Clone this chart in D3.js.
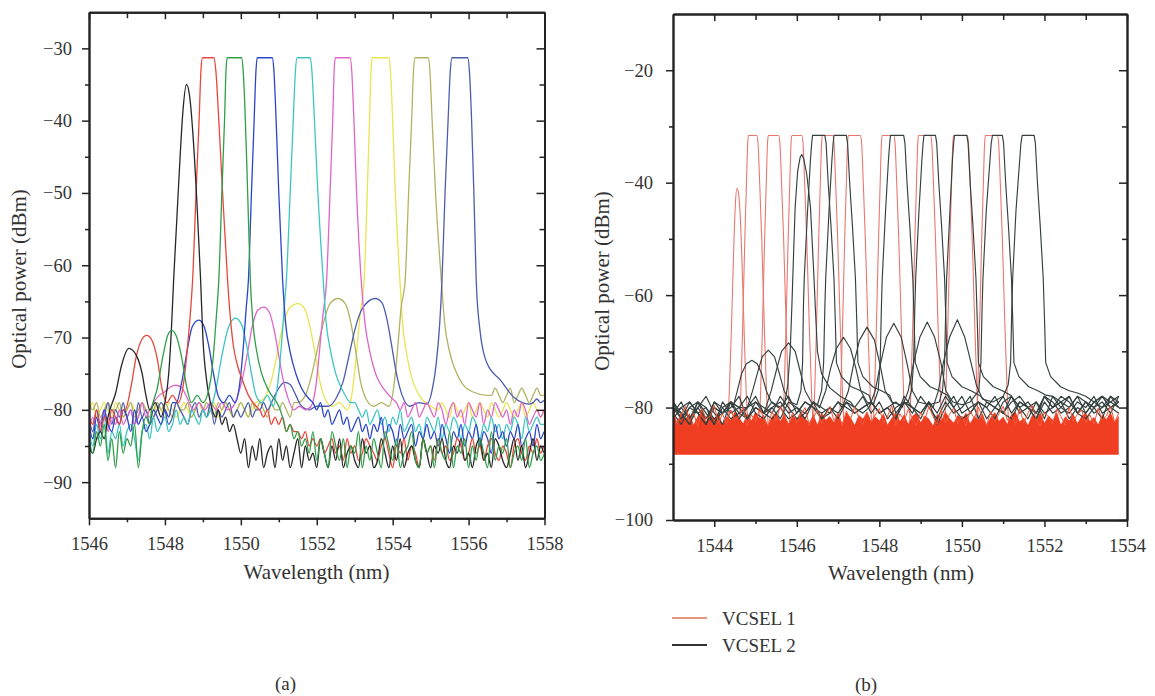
<!DOCTYPE html>
<html><head><meta charset="utf-8">
<script src="https://cdn.jsdelivr.net/npm/d3@7"></script>
<style>
body{margin:0;background:#fff}
svg text{font-family:"Liberation Serif","DejaVu Serif",serif;fill:#333}
.ax text{font-family:"Liberation Serif","DejaVu Serif",serif;font-size:18.5px;fill:#333}
.ax .domain{stroke:#222;stroke-width:1.9}
.ax line{stroke:#222;stroke-width:1.5}
</style></head>
<body><svg id="c" width="1155" height="696"></svg>
<script>
// ---------------- Panel (a) data: wavelength (nm), power (dBm) ----------------
const aXTicks = [1546,1548,1550,1552,1554,1556,1558];
const aXMinor = [1547,1549,1551,1553,1555,1557];
const aYTicks = [-30,-40,-50,-60,-70,-80,-90];
const aYMinor = [-35,-45,-55,-65,-75,-85];
const aGridStart = 1546, aGridStep = 0.1;

const aBlackLeft = [-85,-86,-84,-83,-84,-81];
const aBlackPeak = [[1546.55,-80],[1546.7,-77.7],[1546.85,-74],[1547.05,-71.5],[1547.25,-72.5],[1547.4,-75],[1547.5,-78],[1547.6,-80],[1547.75,-79],[1547.9,-81],[1548.0,-79],[1548.1,-75],[1548.17,-69],[1548.23,-62],[1548.3,-55],[1548.4,-45],[1548.47,-39],[1548.57,-35],[1548.66,-37],[1548.74,-42],[1548.84,-51],[1548.94,-62],[1549.0,-70],[1549.1,-76],[1549.2,-79],[1549.35,-81]];
const aBlackRight = [-80,-82,-81,-83,-82,-84,
 -86,-84,-88,-85,-87,-84,-88,-86,-85,-88, -84,-87,-85,-88,-86,-84,-88,-85,-87,-86,
 -88,-84,-86,-88,-85,-87,-84,-88,-86,-85, -87,-88,-84,-86,-85,-88,-87,-84,-86,-88,
 -85,-87,-84,-88,-86,-85,-87,-88,-84,-86, -88,-85,-86,-84,-87,-88,-85,-86,-84,-87,
 -86,-88,-85,-84,-87,-86,-88,-84,-85,-87, -88,-86,-84,-87,-85,-88,-86,-84,-87,-85, -86,-85];

const aRedLeft = [-81,-82,-80,-83,-81,-82,-80,-81,-82,-80];
const aRedPeak = [[1546.95,-80],[1547.1,-77],[1547.25,-72.5],[1547.4,-70.2],[1547.52,-69.7],[1547.65,-70.3],[1547.8,-73],[1547.92,-77],[1548.05,-79],[1548.2,-78],[1548.35,-79],[1548.5,-76],[1548.6,-71],[1548.68,-66],[1548.73,-62],[1548.82,-50],[1548.9,-40],[1548.95,-33],[1548.99,-31.3],[1549.29,-31.3],[1549.34,-33],[1549.42,-40],[1549.52,-50],[1549.65,-62],[1549.72,-67],[1549.8,-71],[1549.92,-74],[1550.05,-76],[1550.2,-78],[1550.4,-79.5]];
const aRedRight = [-80,-81,-80,-82,-81,
 -82,-81,-83,-82,-83,-83,-84,-83,-85,-84, -85,-84,-86,-85,-84,-86,-85,-87,-84,-86,
 -85,-87,-86,-84,-85,-86,-87,-85,-84,-86, -88,-85,-86,-84,-87,-85,-86,-88,-84,-86,
 -85,-87,-84,-86,-85,-87,-86,-84,-85,-87, -86,-84,-86,-85,-87,-85,-84,-86,-87,-85,
 -86,-88,-85,-84,-86,-87,-85,-86,-84,-86, -85,-86,-84];

const aGreenLeft = [-84,-86,-83,-85,-82,-87,-84,-88,-83,-86,-84,-85,-82,-88,-83,-81,-82];
const aGreenPeak = [[1547.65,-80],[1547.8,-77],[1547.95,-72.5],[1548.08,-69.6],[1548.18,-69],[1548.3,-69.8],[1548.45,-73],[1548.58,-77],[1548.7,-79],[1548.85,-78],[1549.0,-79],[1549.2,-76],[1549.3,-71],[1549.37,-66],[1549.42,-62],[1549.5,-50],[1549.57,-40],[1549.61,-33],[1549.64,-31.3],[1550.02,-31.3],[1550.06,-33],[1550.12,-40],[1550.18,-50],[1550.25,-62],[1550.32,-68],[1550.42,-72],[1550.55,-75],[1550.75,-77.5],[1551.0,-79.5]];
const aGreenRight = [-81,-83,-82,-84,-83,-85,-84,-86,-83,
 -87,-84,-86,-88,-83,-85,-87,-84,-88,-85, -86,-83,-88,-85,-87,-84,-86,-88,-83,-85,
 -87,-84,-88,-86,-85,-83,-87,-88,-84,-86, -85,-88,-84,-86,-87,-83,-88,-85,-86,-84,
 -88,-85,-87,-84,-86,-88,-83,-87,-85,-86, -84,-88,-86,-85,-87,-84,-88,-86,-85,-87, -86,-84,-87];

const aBlueLeft = [-82,-84,-81,-83,-80,-82,-83,-81,-82,-80,-81,-83,-80,-82,-81,-83,-82,-80,-81,-82,-80,-81,-79];
const aBluePeak = [[1548.3,-79],[1548.45,-76],[1548.58,-72],[1548.72,-68.5],[1548.89,-67.6],[1549.02,-68.3],[1549.15,-71],[1549.28,-75],[1549.4,-78],[1549.55,-79],[1549.7,-78],[1549.85,-79],[1549.98,-76],[1550.07,-71],[1550.14,-66],[1550.2,-62],[1550.28,-50],[1550.35,-40],[1550.4,-33],[1550.43,-31.3],[1550.83,-31.3],[1550.87,-33],[1550.93,-40],[1551.0,-50],[1551.1,-62],[1551.18,-68],[1551.3,-72],[1551.45,-75],[1551.6,-77],[1551.8,-78.5]];
const aBlueRight = [-79,
 -80,-79,-81,-80,-82,-81,-80,-82,-81,-83, -82,-81,-83,-82,-84,-82,-83,-81,-84,-82,
 -83,-85,-82,-84,-83,-82,-85,-83,-84,-82, -84,-83,-85,-82,-84,-86,-83,-84,-82,-85,
 -83,-84,-82,-85,-83,-84,-86,-82,-84,-83, -85,-83,-84,-82,-85,-84,-83,-85,-82,-84, -83,-84,-82];

const aCyanLeft = [-83,-85,-82,-84,-81,-86,-83,-84,-82,-85,-83,-82,-84,-87,-83,-82,-84,-81,-83,-82,-81,-83,-82,-80,-82,-81,-82,-80,-81,-82,-80,-81];
const aCyanPeak = [[1549.2,-80],[1549.35,-77],[1549.5,-72.5],[1549.68,-68.5],[1549.86,-67.3],[1550.02,-68.2],[1550.15,-71],[1550.28,-75],[1550.4,-78],[1550.55,-79],[1550.7,-78],[1550.85,-79.5],[1550.98,-76],[1551.07,-71],[1551.14,-66],[1551.2,-62],[1551.3,-50],[1551.38,-40],[1551.44,-33],[1551.48,-31.3],[1551.83,-31.3],[1551.87,-33],[1551.94,-40],[1552.03,-50],[1552.17,-62],[1552.25,-68],[1552.37,-72],[1552.5,-75],[1552.7,-77.5],[1552.9,-79]];
const aCyanRight = [-79,-80,-81,-80,-82,-81,-80,-82,-81,-83, -81,-82,-80,-83,-82,-81,-83,-82,-84,-81,
 -82,-83,-81,-84,-82,-83,-81,-82,-84,-82, -83,-81,-82,-84,-82,-83,-81,-83,-82,-84,
 -82,-83,-81,-82,-84,-81,-83,-82,-81,-82, -82,-83,-81];

const aMagentaLeft = [-83,-81,-84,-82,-80,-83,-81,-82,-80,-82,-81,-80,-82,-81,-79,-81,-80];
const aMagentaPeak = [[1547.7,-79],[1547.85,-78],[1548.0,-77.5],[1548.15,-76.8],[1548.3,-76.6],[1548.45,-77],[1548.6,-78.5],[1548.75,-80],[1548.9,-79],[1549.05,-80],[1549.2,-79],[1549.35,-80],[1549.5,-79],[1549.65,-80],[1549.8,-79.5],[1549.92,-78],[1550.05,-75.5],[1550.18,-72],[1550.3,-68.5],[1550.45,-66.2],[1550.6,-65.8],[1550.75,-66.5],[1550.88,-69],[1551.0,-72.5],[1551.12,-76],[1551.25,-78.5],[1551.4,-80],[1551.55,-79.5],[1551.7,-80],[1551.85,-79.5],[1551.97,-77],[1552.07,-72],[1552.16,-67],[1552.26,-62],[1552.35,-50],[1552.42,-40],[1552.46,-33],[1552.49,-31.3],[1552.88,-31.3],[1552.92,-33],[1552.98,-40],[1553.05,-50],[1553.17,-62],[1553.27,-68],[1553.4,-72],[1553.55,-75],[1553.75,-77],[1554.0,-78.5]];
const aMagentaRight = [-79,-80,-79,-81,-80,-79,-81,-80,-79,
 -80,-81,-79,-80,-82,-80,-79,-81,-80,-82, -79,-80,-81,-79,-82,-80,-81,-79,-80,-81,
 -80,-82,-80,-81,-79,-80,-82,-81,-80,-81, -80,-81,-80];

const aYellowLeft = [-80,-79,-81,-80,-79,-80,-81,-79,-80,-81, -80,-79,-80,-81,-79,-80,-80,-81,-79,-80,
 -81,-79,-80,-81,-80,-79,-80,-81,-80,-79, -80,-81,-80,-79,-81,-80,-79,-80,-81,-80, -79,-80,-81,-80];
const aYellowPeak = [[1550.4,-79],[1550.6,-78.5],[1550.8,-76],[1550.95,-72.5],[1551.1,-68.5],[1551.3,-65.8],[1551.5,-65.3],[1551.68,-66],[1551.82,-68.5],[1551.95,-72],[1552.08,-76],[1552.22,-78.5],[1552.4,-79.5],[1552.6,-79],[1552.8,-80],[1552.95,-77],[1553.05,-72],[1553.14,-67],[1553.25,-62],[1553.33,-50],[1553.39,-40],[1553.43,-33],[1553.46,-31.3],[1553.9,-31.3],[1553.94,-33],[1554.0,-40],[1554.07,-50],[1554.19,-62],[1554.26,-68],[1554.36,-72],[1554.5,-75.5],[1554.7,-78],[1555.0,-79.5],[1555.2,-80]];
const aYellowRight = [-79,-80,-81,-79,-80,-81,-80, -79,-81,-80,-79,-80,-81,-79,-80,-81,-80,
 -79,-80,-81,-80,-79,-81,-80,-79,-80,-81, -80,-79,-80];

const aOliveLeft = [-79,-80,-79,-81,-80,-79,-80,-80,-79,-81, -80,-79,-81,-80,-79,-80,-81,-80,-79,-80,
 -79,-80,-81,-79,-80,-80,-79,-81,-80,-79, -80,-79,-80,-81,-79,-80,-79,-80,-81,-80,
 -79,-80,-81,-79,-80,-79,-80,-81,-79,-80, -80,-79,-80,-81,-79];
const aOlivePeak = [[1551.5,-79],[1551.7,-78],[1551.85,-75.5],[1552.0,-72],[1552.15,-68.5],[1552.35,-65.3],[1552.56,-64.6],[1552.75,-65.3],[1552.9,-68],[1553.03,-72],[1553.15,-76],[1553.3,-78.5],[1553.5,-79.5],[1553.7,-79],[1553.9,-79.5],[1554.05,-76],[1554.14,-71],[1554.22,-66],[1554.33,-62],[1554.42,-50],[1554.5,-40],[1554.55,-33],[1554.59,-31.3],[1554.94,-31.3],[1554.98,-33],[1555.04,-40],[1555.13,-50],[1555.28,-62],[1555.37,-68],[1555.5,-72],[1555.65,-74.5],[1555.85,-76.5],[1556.1,-77.5],[1556.5,-78]];
const aOliveRight = [-78,-77,-78,-79, -78,-77,-79,-78,-77,-78,-79,-78,-77,-78, -78,-77,-78];

const aNavyLeft = [-81,-83,-80,-82,-81,-79,-82,-80,-81,-79, -81,-80,-82,-79,-81,-80,-82,-81,-80,-79,
 -80,-82,-81,-79,-80,-81,-82,-80,-79,-81, -80,-81,-79,-82,-80,-81,-80,-79,-81,-80, -81,-80,-79,-81,-80,-80,-79];
const aNavyPeak = [[1550.7,-80],[1550.85,-78.5],[1551.0,-77],[1551.15,-76.2],[1551.3,-76.5],[1551.45,-78],[1551.6,-79.5],[1551.8,-80],[1552.0,-79.5],[1552.3,-79.5],[1552.5,-78.5],[1552.7,-76],[1552.85,-72.5],[1553.0,-69],[1553.2,-66],[1553.54,-64.6],[1553.72,-65.2],[1553.85,-67.5],[1553.97,-71],[1554.1,-75],[1554.25,-78],[1554.45,-79.5],[1554.7,-79],[1554.9,-79.2],[1555.05,-77],[1555.15,-73.5],[1555.24,-68],[1555.3,-62],[1555.38,-50],[1555.46,-40],[1555.52,-33],[1555.56,-31.3],[1555.98,-31.3],[1556.02,-33],[1556.08,-40],[1556.14,-50],[1556.2,-62],[1556.3,-69],[1556.48,-73.5],[1556.84,-75.9],[1557.2,-78.3],[1557.6,-79.2]];
const aNavyRight = [-79,-78.5,-79,-78.7,-79];

// ---------------- Panel (b) data ----------------
const bXTicks = [1544,1546,1548,1550,1552,1554];
const bXMinor = [1545,1547,1549,1551,1553];
const bYTicks = [-20,-40,-60,-80,-100];
const bYMinor = [-30,-50,-70,-90];
const bGridStart = 1543, bGridStep = 0.2, bBandStep = 0.1, bDataEnd = 1553.85;
const bandBottom = -88.4;
const bandTop = [
 -81.5,-82.5,-80.8,-82,-81,-83,-81.5,-80.5,-82.5,-81.2,
 -82,-80.8,-83,-81.5,-82.2,-80.6,-81.8,-82.8,-81,-82.3,
 -80.7,-82,-81.3,-83.2,-81.6,-80.9,-82.4,-81.1,-82.9,-81.4,
 -82.1,-80.6,-81.9,-82.7,-81.2,-83,-80.8,-82.2,-81.5,-82.6,
 -81,-82.8,-80.9,-81.7,-83.1,-81.3,-82,-80.7,-82.5,-81.6,
 -82.3,-81,-83,-81.8,-80.8,-82.4,-81.2,-82.9,-81.5,-80.9,
 -82.6,-81.4,-82,-83.2,-81.1,-82.3,-80.7,-81.9,-82.7,-81.3,
 -82.1,-80.9,-82.8,-81.5,-82.2,-81,-83,-81.7,-80.8,-82.4,
 -81.6,-82.9,-81.2,-80.7,-82.5,-81.8,-83.1,-81.3,-82,-80.9,
 -82.7,-81.4,-82.2,-80.8,-83,-81.6,-82.3,-81.1,-82.8,-81.5,
 -80.9,-82.4,-81.7,-83,-81.2,-82.1,-80.8,-82.6,-81.4];
const bRedNoise = [
 -80.5,-83,-81.2,-79.8,-82.6,-81,-83.4,-80.2,-82,-81.5,
 -79.6,-82.8,-81.1,-83,-80.4,-82.2,-81.7,-79.9,-83.2,-81.3,
 -82.5,-80.1,-81.9,-83.3,-80.7,-82.4,-79.7,-81.6,-83,-80.9,
 -82.7,-81.2,-80,-83.1,-81.8,-80.5,-82.9,-81.4,-79.8,-82.3,
 -81,-83.2,-80.6,-82.1,-79.9,-81.7,-83,-80.8,-82.6,-81.3,
 -80.2,-82.8,-81.5,-79.7,-83.1,-81.1,-82.4,-80.3,-81.9,-83.3,
 -80.9,-82.2,-79.8,-81.6,-83,-80.4,-82.7,-81.2,-80.1,-82.9,
 -81.5,-83.2,-80.6,-82,-79.9,-81.8,-83.1,-80.7,-82.5,-81.1,
 -79.8,-82.3,-81.4,-83,-80.2,-82.8,-81,-79.6,-82.1,-83.2,
 -80.8,-81.7,-82.9,-80.3,-81.6,-83.1,-79.9,-82.4,-81.2,-80.5,
 -82.7,-81.3,-83,-80.1,-82.2,-81.5,-79.7,-82.6,-81];

// VCSEL 1 (red) peaks
const bR0 = [[1544.3,-85],[1544.36,-78],[1544.42,-65],[1544.47,-52],[1544.51,-44],[1544.55,-41],[1544.59,-42],[1544.63,-46],[1544.68,-56],[1544.73,-68],[1544.79,-80],[1544.84,-85]];
const bR1 = [[1544.6,-85],[1544.64,-78],[1544.69,-65],[1544.74,-50],[1544.78,-40],[1544.81,-33],[1544.83,-31.6],[1545.03,-31.6],[1545.06,-33],[1545.1,-40],[1545.15,-50],[1545.21,-65],[1545.27,-78],[1545.32,-85]];
const bR2 = [[1545.08,-85],[1545.12,-78],[1545.17,-65],[1545.22,-50],[1545.26,-40],[1545.29,-33],[1545.31,-31.6],[1545.56,-31.6],[1545.59,-33],[1545.63,-40],[1545.68,-50],[1545.74,-65],[1545.8,-78],[1545.85,-85]];
const bR3 = [[1545.65,-85],[1545.69,-78],[1545.74,-65],[1545.79,-50],[1545.83,-40],[1545.86,-33],[1545.88,-31.6],[1546.12,-31.6],[1546.15,-33],[1546.19,-40],[1546.24,-50],[1546.3,-65],[1546.36,-78],[1546.41,-85]];
const bR4 = [[1546.39,-85],[1546.43,-78],[1546.48,-65],[1546.53,-50],[1546.57,-40],[1546.6,-33],[1546.62,-31.6],[1546.87,-31.6],[1546.9,-33],[1546.94,-40],[1546.99,-50],[1547.05,-65],[1547.11,-78],[1547.16,-85]];
const bR5 = [[1547.02,-85],[1547.06,-78],[1547.11,-65],[1547.16,-50],[1547.2,-40],[1547.23,-33],[1547.25,-31.6],[1547.54,-31.6],[1547.57,-33],[1547.61,-40],[1547.66,-50],[1547.72,-65],[1547.78,-78],[1547.83,-85]];
const bR6 = [[1547.84,-85],[1547.88,-78],[1547.93,-65],[1547.98,-50],[1548.02,-40],[1548.05,-33],[1548.07,-31.6],[1548.35,-31.6],[1548.38,-33],[1548.42,-40],[1548.47,-50],[1548.53,-65],[1548.59,-78],[1548.64,-85]];
const bR7 = [[1548.72,-85],[1548.76,-78],[1548.81,-65],[1548.86,-50],[1548.9,-40],[1548.93,-33],[1548.95,-31.6],[1549.24,-31.6],[1549.27,-33],[1549.31,-40],[1549.36,-50],[1549.42,-65],[1549.48,-78],[1549.53,-85]];
const bR8 = [[1549.57,-85],[1549.61,-78],[1549.66,-65],[1549.71,-50],[1549.75,-40],[1549.78,-33],[1549.8,-31.6],[1550.13,-31.6],[1550.16,-33],[1550.2,-40],[1550.25,-50],[1550.31,-65],[1550.37,-78],[1550.42,-85]];
const bR9 = [[1550.34,-85],[1550.38,-78],[1550.43,-65],[1550.48,-50],[1550.52,-40],[1550.55,-33],[1550.57,-31.6],[1550.86,-31.6],[1550.89,-33],[1550.93,-40],[1550.98,-50],[1551.04,-65],[1551.1,-78],[1551.15,-85]];

// VCSEL 2 (black) traces: left floor, peak with side mode, right floor
const bB0Left = [-80,-82,-79,-81,-83,-80,-81,-79];
const bB0Peak = [[1544.45,-80],[1544.56,-77],[1544.66,-74],[1544.78,-72.2],[1544.91,-71.6],[1545.04,-72.2],[1545.15,-74],[1545.26,-77],[1545.38,-79],[1545.55,-80],[1545.7,-79.5],[1545.78,-76],[1545.84,-70],[1545.88,-62],[1545.92,-53],[1545.96,-44.3],[1546.02,-38],[1546.08,-35.5],[1546.12,-35],[1546.17,-35.8],[1546.24,-38.5],[1546.33,-44.3],[1546.41,-56],[1546.46,-64],[1546.5,-70],[1546.6,-74],[1546.8,-76.5],[1547.05,-78],[1547.3,-79]];
const bB0Right = [-80,-78,-81,-79,-82,-80,-79,-81,-78,-80,-82,-79,-81,-80,-78,-82,-79,-80,-81,-79,-78,-80,-82,-79,-81,-80,-78,-81,-79,-80,-82,-78,-80,-79];
const bB1Left = [-81,-79,-82,-80,-78,-81,-83,-79,-80,-82];
const bB1Peak = [[1544.8,-80],[1544.93,-77],[1545.04,-74],[1545.16,-71],[1545.31,-69.8],[1545.46,-71],[1545.58,-74],[1545.69,-77],[1545.85,-79],[1546.0,-79.5],[1546.1,-77],[1546.14,-72],[1546.16,-62],[1546.18,-57],[1546.26,-45],[1546.33,-36],[1546.36,-33],[1546.38,-31.6],[1546.68,-31.6],[1546.71,-33],[1546.76,-40],[1546.83,-48],[1546.9,-57],[1546.93,-64],[1546.96,-72],[1547.08,-74.5],[1547.32,-76.3],[1547.55,-77],[1547.75,-77.8]];
const bB1Right = [-79,-81,-80,-82,-78,-80,-81,-79,-83,-80,-78,-81,-80,-79,-82,-80,-81,-78,-80,-82,-79,-81,-80,-78,-79,-81,-82,-80,-79,-81,-78,-80];
const bB2Left = [-79,-81,-83,-80,-82,-79,-81,-80,-78,-82,-80,-81];
const bB2Peak = [[1545.25,-80],[1545.38,-77],[1545.5,-73.5],[1545.63,-70],[1545.8,-68.5],[1545.96,-70],[1546.08,-73.5],[1546.2,-77],[1546.35,-79],[1546.5,-79.5],[1546.6,-77],[1546.65,-72],[1546.68,-62],[1546.7,-57],[1546.78,-45],[1546.85,-36],[1546.88,-33],[1546.9,-31.6],[1547.2,-31.6],[1547.23,-33],[1547.28,-40],[1547.35,-48],[1547.42,-57],[1547.45,-64],[1547.48,-72],[1547.6,-74.5],[1547.84,-76.3],[1548.05,-77],[1548.25,-77.8]];
const bB2Right = [-81,-79,-80,-82,-79,-81,-78,-80,-82,-81,-79,-80,-78,-81,-82,-79,-80,-81,-78,-80,-79,-82,-80,-81,-79,-78,-80,-81,-79];
const bB3Left = [-82,-80,-79,-81,-80,-83,-79,-81,-80,-82,-79,-80,-81,-78,-80,-82,-81,-79];
const bB3Peak = [[1546.55,-80],[1546.7,-77],[1546.82,-73],[1546.96,-69.5],[1547.13,-67.5],[1547.3,-69.5],[1547.43,-73],[1547.55,-77],[1547.7,-79],[1547.85,-79.5],[1547.97,-77],[1548.02,-72],[1548.05,-62],[1548.07,-57],[1548.15,-45],[1548.22,-36],[1548.25,-33],[1548.27,-31.6],[1548.59,-31.6],[1548.62,-33],[1548.67,-40],[1548.74,-48],[1548.81,-57],[1548.84,-64],[1548.87,-72],[1548.99,-74.5],[1549.23,-76.3],[1549.45,-77],[1549.65,-77.8]];
const bB3Right = [-80,-78,-81,-79,-80,-82,-79,-78,-81,-80,-79,-82,-78,-80,-81,-79,-80,-78,-81,-80,-79,-81];
const bB4Left = [-80,-81,-83,-79,-80,-82,-81,-79,-80,-78,-81,-82,-80,-79,-81,-80,-82,-79,-80,-81,-79];
const bB4Peak = [[1547.1,-80],[1547.25,-77],[1547.37,-72.5],[1547.52,-68],[1547.7,-65.7],[1547.88,-68],[1548.02,-72.5],[1548.14,-77],[1548.3,-79],[1548.5,-79.5],[1548.7,-79],[1548.78,-77],[1548.83,-72],[1548.86,-62],[1548.88,-57],[1548.96,-45],[1549.03,-36],[1549.06,-33],[1549.08,-31.6],[1549.36,-31.6],[1549.39,-33],[1549.44,-40],[1549.51,-48],[1549.58,-57],[1549.61,-64],[1549.64,-72],[1549.76,-74.5],[1550.0,-76.3],[1550.22,-77],[1550.42,-77.8]];
const bB4Right = [-79,-80,-78,-81,-79,-80,-82,-78,-79,-81,-80,-78,-79,-81,-80,-79,-78,-80];
const bB7Left = [-81,-83,-80,-79,-82,-80,-81,-79,-82,-80,-78,-81,-80,-82,-79,-80,-81,-79,-82,-80,-81,-79,-80,-81];
const bB7Peak = [[1547.75,-80],[1547.9,-77],[1548.02,-72.5],[1548.17,-67.5],[1548.35,-65],[1548.53,-67.5],[1548.68,-72.5],[1548.8,-77],[1548.95,-79],[1549.2,-79.5],[1549.45,-79],[1549.53,-77],[1549.58,-72],[1549.61,-62],[1549.63,-57],[1549.71,-45],[1549.77,-36],[1549.8,-33],[1549.82,-31.6],[1550.12,-31.6],[1550.15,-33],[1550.2,-40],[1550.27,-48],[1550.34,-57],[1550.37,-64],[1550.4,-72],[1550.52,-74.5],[1550.76,-76.3],[1550.98,-77],[1551.18,-77.8]];
const bB7Right = [-78,-80,-79,-81,-78,-80,-79,-78,-81,-79,-80,-78,-79,-80,-81];
const bB5Left = [-79,-82,-80,-81,-83,-79,-80,-82,-81,-80,-79,-81,-82,-80,-78,-81,-79,-80,-82,-81,-79,-80,-81,-80,-79,-81,-80,-79];
const bB5Peak = [[1548.55,-80],[1548.7,-77],[1548.83,-72],[1548.98,-67.5],[1549.16,-64.8],[1549.34,-67.5],[1549.49,-72],[1549.61,-77],[1549.78,-79],[1550.0,-79.5],[1550.2,-79],[1550.41,-77],[1550.46,-72],[1550.49,-62],[1550.51,-57],[1550.59,-45],[1550.68,-36],[1550.71,-33],[1550.74,-31.6],[1550.98,-31.6],[1551.01,-33],[1551.06,-40],[1551.13,-48],[1551.2,-57],[1551.23,-64],[1551.26,-72],[1551.38,-74.5],[1551.62,-76.3],[1551.84,-77],[1552.04,-77.8]];
const bB5Right = [-78,-79,-80,-78,-81,-79,-78,-80,-79,-81];
const bB6Left = [-81,-80,-82,-79,-81,-83,-80,-79,-81,-82,-80,-81,-79,-80,-82,-81,-79,-80,-81,-80,-82,-79,-81,-80,-79,-81,-80,-82,-79,-80,-81,-79];
const bB6Peak = [[1549.3,-80],[1549.43,-77],[1549.55,-72],[1549.7,-67.5],[1549.89,-64.4],[1550.07,-67.5],[1550.22,-72],[1550.35,-76],[1550.5,-78.5],[1550.75,-79],[1551.0,-78],[1551.12,-76],[1551.18,-72],[1551.21,-62],[1551.23,-57],[1551.31,-45],[1551.4,-36],[1551.43,-33],[1551.46,-31.6],[1551.75,-31.6],[1551.78,-33],[1551.83,-40],[1551.9,-48],[1551.97,-57],[1552.0,-64],[1552.03,-72],[1552.15,-74.5],[1552.39,-76.3],[1552.6,-77],[1552.8,-77.4]];
const bB6Right = [-78,-79,-80,-78,-79,-80];

const legendLabels = ["VCSEL 1","VCSEL 2"];

// ---------------- styles ----------------
const colA = {black:"#262626",red:"#e8463c",green:"#2f9e48",blue:"#2b44c8",cyan:"#3cc6c2",
  magenta:"#de66c6",yellow:"#e9e452",olive:"#b2b264",navy:"#4c5cae"};
const colB = {red:"#e8786e",band:"#f03e22",noise:"#f2583a",black:"#34403e",legRed:"#e8957f",legBlack:"#333"};

// ---------------- build ----------------
function mk(left, gs, step, peak, right, maxX){
  const p0 = peak[0][0], p1 = peak[peak.length-1][0];
  const L = left.map((v,i)=>[gs+i*step, v]).filter(d=>d[0] < p0-1e-6);
  const rs = gs + Math.ceil((p1-gs)/step + 1e-6)*step;
  let R = right.map((v,i)=>[rs+i*step, v]);
  if (maxX!==undefined) R = R.filter(d=>d[0] <= maxX);
  return L.concat(peak, R);
}

const svg = d3.select("#c");
const xa = d3.scaleLinear().domain([1546,1558]).range([89,544.5]);
const ya = d3.scaleLinear().domain([-95,-25]).range([518.3,12.2]);
const xb = d3.scaleLinear().domain([1543,1554]).range([673,1127]);
const yb = d3.scaleLinear().domain([-100,-10]).range([520,14]);

const defs = svg.append("defs");
defs.append("clipPath").attr("id","clipA").append("rect")
  .attr("x",xa.range()[0]).attr("y",ya.range()[1]).attr("width",xa.range()[1]-xa.range()[0]).attr("height",ya.range()[0]-ya.range()[1]);
defs.append("clipPath").attr("id","clipB").append("rect")
  .attr("x",xb.range()[0]).attr("y",yb.range()[1]).attr("width",xb.range()[1]-xb.range()[0]).attr("height",yb.range()[0]-yb.range()[1]);

// Panel (a) traces
const tracesA = [
  {c:colA.yellow, l:aYellowLeft, p:aYellowPeak, r:aYellowRight},
  {c:colA.olive, l:aOliveLeft, p:aOlivePeak, r:aOliveRight},
  {c:colA.navy, l:aNavyLeft, p:aNavyPeak, r:aNavyRight},
  {c:colA.magenta, l:aMagentaLeft, p:aMagentaPeak, r:aMagentaRight},
  {c:colA.cyan, l:aCyanLeft, p:aCyanPeak, r:aCyanRight},
  {c:colA.blue, l:aBlueLeft, p:aBluePeak, r:aBlueRight},
  {c:colA.red, l:aRedLeft, p:aRedPeak, r:aRedRight},
  {c:colA.black, l:aBlackLeft, p:aBlackPeak, r:aBlackRight},
  {c:colA.green, l:aGreenLeft, p:aGreenPeak, r:aGreenRight}
];
const lineA = d3.line().x(d=>xa(d[0])).y(d=>ya(d[1])).curve(d3.curveMonotoneX);
const gA = svg.append("g").attr("clip-path","url(#clipA)");
tracesA.forEach(t=>{
  gA.append("path").datum(mk(t.l,aGridStart,aGridStep,t.p,t.r))
    .attr("d",lineA).attr("fill","none").attr("stroke",t.c).attr("stroke-width",1.3).attr("stroke-linejoin","round");
});

// Panel (b)
const lineB = d3.line().x(d=>xb(d[0])).y(d=>yb(d[1])).curve(d3.curveMonotoneX);
const gB = svg.append("g").attr("clip-path","url(#clipB)");
[bR0,bR1,bR2,bR3,bR4,bR5,bR6,bR7,bR8,bR9].forEach(r=>{
  gB.append("path").datum(r).attr("d",lineB).attr("fill","none").attr("stroke",colB.red).attr("stroke-width",1.1);
});
const bandData = bandTop.map((v,i)=>[bGridStart+i*bBandStep, v]);
gB.append("path").datum(bandData)
  .attr("d", d3.area().x(d=>xb(d[0])).y0(yb(bandBottom)).y1(d=>yb(d[1])))
  .attr("fill",colB.band);
const tracesB = [
  [bB0Left,bB0Peak,bB0Right],[bB1Left,bB1Peak,bB1Right],[bB2Left,bB2Peak,bB2Right],
  [bB3Left,bB3Peak,bB3Right],[bB4Left,bB4Peak,bB4Right],[bB7Left,bB7Peak,bB7Right],
  [bB5Left,bB5Peak,bB5Right],[bB6Left,bB6Peak,bB6Right]
];
tracesB.forEach(t=>{
  gB.append("path").datum(mk(t[0],bGridStart,bGridStep,t[1],t[2],bDataEnd))
    .attr("d",d3.line().x(d=>xb(d[0])).y(d=>yb(d[1]))).attr("fill","none")
    .attr("stroke",colB.black).attr("stroke-width",1.15).attr("stroke-linejoin","round");
});
gB.append("path").datum(bRedNoise.map((v,i)=>[bGridStart+i*bBandStep, v]))
  .attr("d",d3.line().x(d=>xb(d[0])).y(d=>yb(d[1]))).attr("fill","none")
  .attr("stroke",colB.noise).attr("stroke-width",1);

// ---------------- axes ----------------
function drawAxes(x, y, xMaj, xMin, yMaj, yMin, padL){
  const [x0,x1] = x.range(), [y0,y1] = y.range();
  const g = svg.append("g").attr("class","ax");
  const fmt = d3.format("d");
  g.append("g").attr("transform",`translate(0,${y0})`).call(d3.axisBottom(x).tickValues(xMaj).tickSize(7).tickSizeOuter(0).tickPadding(12).tickFormat(fmt));
  g.append("g").attr("transform",`translate(0,${y0})`).call(d3.axisBottom(x).tickValues(xMin).tickSize(4).tickSizeOuter(0).tickFormat(""));
  g.append("g").attr("transform",`translate(0,${y1})`).call(d3.axisTop(x).tickValues(xMaj).tickSize(-7).tickSizeOuter(0).tickFormat(""));
  g.append("g").attr("transform",`translate(0,${y1})`).call(d3.axisTop(x).tickValues(xMin).tickSize(-6).tickSizeOuter(0).tickFormat(""));
  g.append("g").attr("transform",`translate(${x0},0)`).call(d3.axisLeft(y).tickValues(yMaj).tickSize(7).tickSizeOuter(0).tickPadding(padL).tickFormat(fmt));
  g.append("g").attr("transform",`translate(${x0},0)`).call(d3.axisLeft(y).tickValues(yMin).tickSize(4).tickSizeOuter(0).tickFormat(""));
  g.append("g").attr("transform",`translate(${x1},0)`).call(d3.axisRight(y).tickValues(yMaj).tickSize(-8).tickSizeOuter(0).tickFormat(""));
  g.append("g").attr("transform",`translate(${x1},0)`).call(d3.axisRight(y).tickValues(yMin).tickSize(-5).tickSizeOuter(0).tickFormat(""));
}
drawAxes(xa, ya, aXTicks, aXMinor, aYTicks, aYMinor, 10);
drawAxes(xb, yb, bXTicks, bXMinor, bYTicks, bYMinor, 13);

// ---------------- labels ----------------
function txt(x,y,s,opts={}){
  const t = svg.append("text").attr("x",x).attr("y",y).text(s)
    .attr("font-size",opts.size||21).attr("text-anchor",opts.anchor||"middle").style("fill","#333");
  if (opts.rot) t.attr("transform",`rotate(-90,${x},${y})`);
  return t;
}
txt(26,279,"Optical power (dBm)",{rot:true});
txt(316.5,579,"Wavelength (nm)");
txt(609,281,"Optical power (dBm)",{rot:true});
txt(901,580,"Wavelength (nm)");
txt(285.5,690,"(a)",{size:19});
txt(866,691,"(b)",{size:19});

// legend
const legCols = [colB.legRed, colB.legBlack];
legendLabels.forEach((s,i)=>{
  const yy = 618 + i*27;
  svg.append("line").attr("x1",672).attr("x2",707).attr("y1",yy).attr("y2",yy)
    .attr("stroke",legCols[i]).attr("stroke-width",2);
  txt(722, yy+6.5, s, {size:19, anchor:"start"});
});
</script></body></html>
